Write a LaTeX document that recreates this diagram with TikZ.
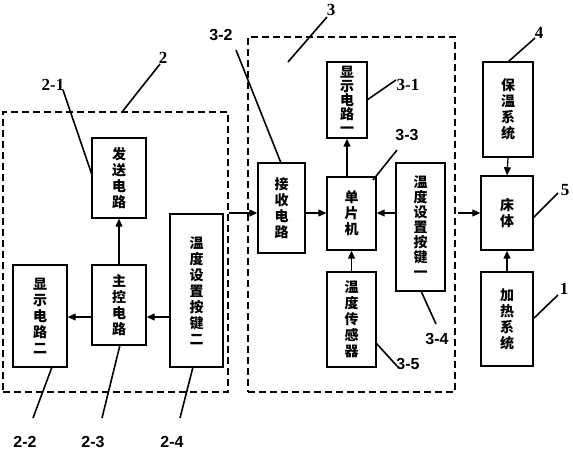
\documentclass[tikz,border=0pt]{standalone}
\usepackage{fontspec}
\newfontfamily\cjk{Noto Sans CJK SC}
\newfontfamily\lsans{Liberation Sans}
\newfontfamily\lserif{Liberation Serif}
\usetikzlibrary{arrows.meta}
\begin{document}
\begin{tikzpicture}[x=1pt,y=-1pt,
  blk/.style={draw,line width=1.4pt,inner sep=0pt,align=center,
    font=\cjk\bfseries\fontsize{14}{16}\selectfont},
  dashbox/.style={draw,line width=1.4pt,dash pattern=on 7pt off 4pt,inner sep=0pt},
  arr/.style={line width=1.2pt,-{Triangle[length=8pt,width=7pt]}},
  lead/.style={line width=1.6pt},
  lbs/.style={font=\lsans\bfseries\fontsize{16}{16}\selectfont,inner sep=0pt},
  lbr/.style={font=\lserif\bfseries\fontsize{17}{17}\selectfont,inner sep=0pt}]
\useasboundingbox (0,0) rectangle (573,450);
% dashed groups
\node[dashbox,minimum width=225pt,minimum height=280pt] (b2) at (115.5,252) {};
\node[dashbox,minimum width=207pt,minimum height=355pt] (b3) at (351.5,214.5) {};
% blocks of group 2
\node[blk,minimum width=54pt,minimum height=80pt] (send) at (119,178) {发\\送\\电\\路};
\node[blk,minimum width=53pt,minimum height=153pt] (key2) at (196.5,290.5) {温\\度\\设\\置\\按\\键\\二};
\node[blk,minimum width=54pt,minimum height=80pt] (ctrl) at (119,305) {主\\控\\电\\路};
\node[blk,minimum width=54pt,minimum height=102pt] (disp2) at (40,316) {显\\示\\电\\路\\二};
% blocks of group 3
\node[blk,minimum width=47pt,minimum height=90pt] (recv) at (281.5,208) {接\\收\\电\\路};
\node[blk,minimum width=40pt,minimum height=76pt,font=\cjk\bfseries\fontsize{14}{14}\selectfont] (disp1) at (347,100) {显\\示\\电\\路\\一};
\node[blk,minimum width=49pt,minimum height=73pt] (mcu) at (351.5,213.5) {单\\片\\机};
\node[blk,minimum width=49pt,minimum height=128pt,font=\cjk\bfseries\fontsize{14}{15}\selectfont] (key1) at (420.5,227) {温\\度\\设\\置\\按\\键\\一};
\node[blk,minimum width=49pt,minimum height=95pt] (sensor) at (351.5,319.5) {温\\度\\传\\感\\器};
% right column
\node[blk,minimum width=50pt,minimum height=95pt] (insul) at (508,109.5) {保\\温\\系\\统};
\node[blk,minimum width=52pt,minimum height=74pt] (bed) at (507,213) {床\\体};
\node[blk,minimum width=52pt,minimum height=94pt] (heat) at (507,319) {加\\热\\系\\统};
% helper coordinates
\coordinate (y317) at (0,317);
\coordinate (y213) at (0,213);
% arrows
\draw[arr] (ctrl.north) -- (send.south);
\draw[arr] (key2.west |- y317) -- (ctrl.east |- y317);
\draw[arr] (ctrl.west |- y317) -- (disp2.east |- y317);
\draw[arr] (b2.east |- y213) -- (recv.west |- y213);
\draw[arr] (recv.east |- y213) -- (mcu.west |- y213);
\draw[arr] (key1.west |- y213) -- (mcu.east |- y213);
\draw[arr] (mcu.north -| disp1.south) -- (disp1.south);
\draw[arr] (sensor.north) -- (mcu.south);
\coordinate (b3o) at (458,213);
\draw[arr] (b3o) -- (bed.west |- y213);
\draw[arr] (insul.south) -- (bed.north);
\draw[arr] (heat.north) -- (bed.south);
% labels
\node[lbr] (l2) at (163,58) {2};
\node[lbr] (l21) at (53,85) {2-1};
\node[lbs] (l22) at (25,442) {2-2};
\node[lbs] (l23) at (93,442) {2-3};
\node[lbs] (l24) at (172,442) {2-4};
\node[lbr] (l3) at (331,10) {3};
\node[lbs] (l32) at (221,35) {3-2};
\node[lbr] (l31) at (408,85) {3-1};
\node[lbs] (l33) at (407,135) {3-3};
\node[lbs] (l34) at (437,339) {3-4};
\node[lbs] (l35) at (408,364) {3-5};
\node[lbr] (l4) at (539,33) {4};
\node[lbr] (l5) at (565,190) {5};
\node[lbr] (l1) at (564,289) {1};
% leader lines
\coordinate (e2a) at (122,112); \coordinate (e2b) at (160,64);
\coordinate (e21a) at (63,90); \coordinate (e21b) at (92,175);
\coordinate (e22a) at (52,367); \coordinate (e22b) at (33,418);
\coordinate (e23a) at (120,345); \coordinate (e23b) at (102,418);
\coordinate (e24a) at (193,367); \coordinate (e24b) at (180,418);
\coordinate (e3a) at (288,62); \coordinate (e3b) at (327,17);
\coordinate (e32a) at (236,50); \coordinate (e32b) at (281,163);
\coordinate (e31a) at (367,100); \coordinate (e31b) at (396,80);
\coordinate (e33a) at (373,180); \coordinate (e33b) at (397,150);
\coordinate (e34a) at (421,291); \coordinate (e34b) at (436,324);
\coordinate (e35a) at (376,343); \coordinate (e35b) at (397,366);
\coordinate (e4a) at (508,62); \coordinate (e4b) at (535,38);
\coordinate (e5a) at (533,218); \coordinate (e5b) at (558,193);
\coordinate (e1a) at (533,319); \coordinate (e1b) at (558,295);
\foreach \p in {2,21,22,23,24,3,32,31,33,34,35,4,5,1}{
  \draw[lead] (e\p a) -- (e\p b);
}
\end{tikzpicture}
\end{document}
